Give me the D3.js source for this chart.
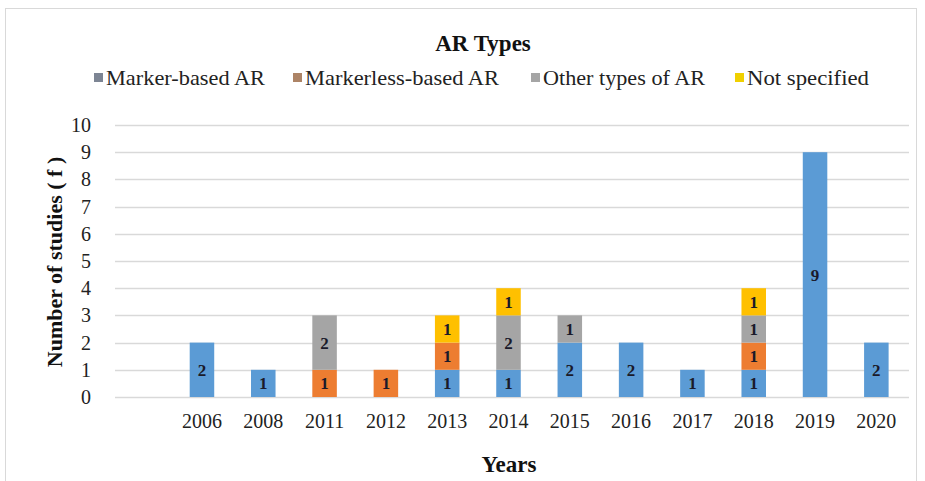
<!DOCTYPE html>
<html>
<head>
<meta charset="utf-8">
<script src="https://cdn.jsdelivr.net/npm/d3@7"></script>
<style>
  body { margin: 0; background: #fff; }
  svg text { font-family: "Liberation Serif", "Times New Roman", serif; }
</style>
</head>
<body>
<script>
"use strict";
(function(){
  // first category is left empty, like in the original chart
  const years = ["", "2006", "2008", "2011", "2012", "2013", "2014", "2015", "2016", "2017", "2018", "2019", "2020"];
  const seriesNames = ["Marker-based AR", "Markerless-based AR", "Other types of AR", "Not specified"];
  const markerBased  = [0, 2, 1, 0, 0, 1, 1, 2, 2, 1, 1, 9, 2];
  const markerless   = [0, 0, 0, 1, 1, 1, 0, 0, 0, 0, 1, 0, 0];
  const otherTypes   = [0, 0, 0, 2, 0, 0, 2, 1, 0, 0, 1, 0, 0];
  const notSpecified = [0, 0, 0, 0, 0, 1, 1, 0, 0, 0, 1, 0, 0];
  const yTicks = [0, 1, 2, 3, 4, 5, 6, 7, 8, 9, 10];

  const barColors = ["#5b9bd5", "#ed7d31", "#a5a5a5", "#ffc000"];
  // legend swatches look a bit different in the picture
  const swatchColors = ["#7d8594", "#ad8466", "#a5a5a5", "#f0d000"];

  const width = 925, height = 481;
  const plot = { left: 110, right: 907, top: 125, bottom: 397 };

  const svg = d3.select("body").append("svg")
      .attr("width", width)
      .attr("height", height);

  // chart frame
  svg.append("rect")
      .attr("x", 5.5).attr("y", 8.5)
      .attr("width", 911).attr("height", 480)
      .attr("fill", "#fff")
      .attr("stroke", "#d9d9d9");

  // build rows for the stack
  const rows = years.map((y, i) => ({
    year: y,
    "Marker-based AR": markerBased[i],
    "Markerless-based AR": markerless[i],
    "Other types of AR": otherTypes[i],
    "Not specified": notSpecified[i]
  }));
  const stacked = d3.stack().keys(seriesNames)(rows);

  const x = d3.scaleBand()
      .domain(years)
      .range([plot.left, plot.right])
      .paddingInner(0.6)
      .paddingOuter(0.3);

  const y = d3.scaleLinear()
      .domain([0, 10])
      .range([plot.bottom, plot.top]);

  // gridlines
  svg.append("g")
    .selectAll("line")
    .data(yTicks)
    .enter().append("line")
      .attr("x1", 115).attr("x2", plot.right + 2)
      .attr("y1", d => Math.round(y(d)) + 0.5)
      .attr("y2", d => Math.round(y(d)) + 0.5)
      .attr("stroke", "#d9d9d9")
      .attr("stroke-width", 1.5);

  // y axis
  const yAxis = d3.axisLeft(y).tickValues(yTicks).tickSize(0).tickPadding(0);
  svg.append("g")
      .attr("transform", "translate(91,0)")
      .call(yAxis)
      .call(g => g.select(".domain").remove())
      .selectAll("text")
        .attr("font-size", 20)
        .attr("fill", "#222")
        .attr("font-family", "Liberation Serif");

  // x axis
  const xAxis = d3.axisBottom(x).tickSize(0).tickPadding(0);
  svg.append("g")
      .attr("transform", "translate(0," + (plot.bottom + 17) + ")")
      .call(xAxis)
      .call(g => g.select(".domain").remove())
      .selectAll("text")
        .attr("font-size", 20)
        .attr("fill", "#222")
        .attr("font-family", "Liberation Serif");

  // bars
  const layers = svg.selectAll(".layer")
      .data(stacked)
      .enter().append("g")
      .attr("class", "layer")
      .attr("fill", (d, i) => barColors[i]);

  layers.selectAll("rect")
      .data(d => d)
      .enter().append("rect")
      .filter(d => d[1] > d[0])
      .attr("x", d => x(d.data.year))
      .attr("y", d => y(d[1]))
      .attr("width", x.bandwidth())
      .attr("height", d => y(d[0]) - y(d[1]));

  // value labels
  layers.selectAll("text")
      .data(d => d)
      .enter().append("text")
      .filter(d => d[1] > d[0])
      .attr("x", d => x(d.data.year) + x.bandwidth() / 2)
      .attr("y", d => (y(d[0]) + y(d[1])) / 2 + 6)
      .attr("text-anchor", "middle")
      .attr("font-size", 17)
      .attr("font-weight", "bold")
      .attr("fill", "#1a1a2a")
      .text(d => d[1] - d[0]);

  // title
  svg.append("text")
      .attr("x", 483).attr("y", 51)
      .attr("text-anchor", "middle")
      .attr("font-size", 23)
      .attr("font-weight", "bold")
      .attr("fill", "#111")
      .text("AR Types");

  // legend
  const legendX = [94, 293, 531, 735];
  const legendW = [159, 194, 162, 122];
  const legend = svg.selectAll(".legend")
      .data(seriesNames)
      .enter().append("g")
      .attr("class", "legend")
      .attr("transform", (d, i) => "translate(" + legendX[i] + ",0)");
  legend.append("rect")
      .attr("x", 0).attr("y", 73)
      .attr("width", 9).attr("height", 9)
      .attr("fill", (d, i) => swatchColors[i]);
  legend.append("text")
      .attr("x", 12).attr("y", 85)
      .attr("font-size", 21)
      .attr("fill", "#222")
      .attr("textLength", (d, i) => legendW[i])
      .attr("lengthAdjust", "spacingAndGlyphs")
      .text(d => d);

  // axis titles
  svg.append("text")
      .attr("transform", "translate(62,262) rotate(-90)")
      .attr("text-anchor", "middle")
      .attr("font-size", 22)
      .attr("font-weight", "bold")
      .attr("fill", "#111")
      .text("Number of studies ( f )");

  svg.append("text")
      .attr("x", 509).attr("y", 472)
      .attr("text-anchor", "middle")
      .attr("font-size", 23)
      .attr("font-weight", "bold")
      .attr("fill", "#111")
      .text("Years");
})()
</script>
</body>
</html>
